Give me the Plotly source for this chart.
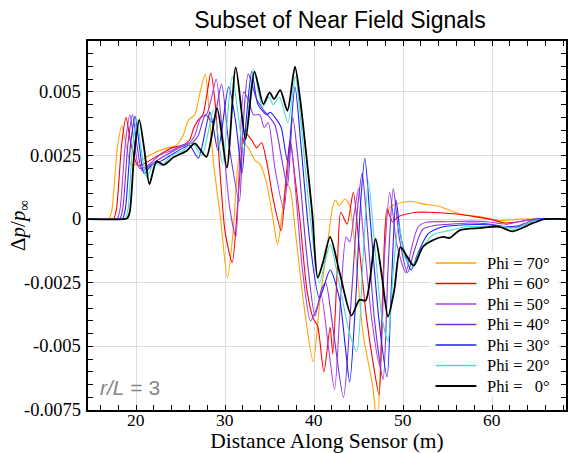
import plotly.graph_objects as go

# ---------------- data ----------------
labels = ["Phi = 70°", "Phi = 60°", "Phi = 50°", "Phi = 40°", "Phi = 30°", "Phi = 20°",
          "Phi = \u00a0\u00a00°"]
colors = ["#ffa500", "#ff0000", "#a63ff0", "#7b2fd8", "#1f1fff", "#40e0d0", "#000000"]
widths = [1.1, 1.1, 1.1, 1.1, 1.1, 1.1, 1.8]

x_phi70 = [14.6, 16.6, 17.0, 17.3, 17.9, 18.4, 18.9, 19.5, 20.5, 22.0, 23.5, 24.5, 25.3, 25.9, 26.6, 27.2,
           27.76, 28.3, 28.7, 29.5, 30.26, 30.9, 31.4, 31.9, 32.6, 33.4, 33.9, 34.6, 35.3, 35.9, 36.4, 36.9,
           37.3, 37.9, 38.9, 39.9, 40.65, 41.5, 42.1, 42.4, 42.8, 43.45, 44.0, 44.7, 45.5, 46.6, 47.1, 47.6,
           48.1, 48.5, 49.2, 50.9, 52.2, 54.1, 56.35, 58.6, 60.8, 63.0, 68.3]
y_phi70 = [0, 0, 0.00003, 0.0004, 0.0028, 0.00367, 0.0029, 0.0021, 0.0023, 0.0026, 0.0028, 0.0029, 0.0033,
           0.0039, 0.0041, 0.0050, 0.0057, 0.0038, 0.0022, 0.0000, -0.0023, -0.0005, 0.0020, 0.0030, 0.0028,
           0.0023, 0.00217, 0.0015, 0.0002, -0.0010, 0.0002, 0.0014, 0.0012, -0.0005, -0.0035, -0.0056,
           -0.0032, -0.0010, 0.0005, 0.00075, 0.00053, 0.00079, 0.00053, -0.0015, -0.0045, -0.0066, -0.0082,
           -0.0040, 0.0000, 0.00046, 0.0006, 0.0007, 0.0006, 0.0005, 0.0002, 0.0001, -0.00005, 0, 0]

x_phi60 = [14.6, 17.1, 17.5, 17.8, 18.4, 18.87, 19.4, 20.2, 21.0, 22.5, 24.0, 25.2, 26.0, 26.5, 27.0, 27.5,
           28.0, 28.4, 28.9, 29.4, 30.0, 30.8, 31.4, 32.0, 32.4, 33.0, 33.55, 34.1, 34.7, 35.4, 36.3, 36.8,
           37.3, 37.8, 38.4, 39.2, 39.9, 40.4, 41.1, 41.8, 42.1, 42.6, 43.0, 43.7, 44.4, 45.1, 45.9, 46.7,
           47.3, 47.7, 48.2, 48.8, 49.5, 50.4, 51.5, 53.0, 56.0, 58.0, 59.7, 61.5, 63.0, 64.8, 68.3]
y_phi60 = [0, 0, 0.00003, 0.0004, 0.0030, 0.0040, 0.0030, 0.0021, 0.0022, 0.0025, 0.0028, 0.0029, 0.0031,
           0.0036, 0.0039, 0.0041, 0.0050, 0.00574, 0.0045, 0.0020, -0.0005, -0.0017, 0.0005, 0.0030, 0.00334,
           0.0031, 0.0028, 0.0030, 0.0022, 0.0008, -0.00045, 0.0014, 0.0031, 0.0018, 0.0000, -0.0028, -0.0039,
           -0.0042, -0.0060, -0.00425, -0.0053, -0.0020, 0.00027, -0.0002, 0.00105, -0.0012, -0.0039,
           -0.0058, -0.0069, -0.0030, 0.0004, -0.0001, 0.0001, 0.0002, 0.00027, 0.00027, 0.0002, 0.0001,
           0.0, -0.00015, -0.0001, 0, 0]

x_phi50 = [14.6, 17.5, 17.9, 18.2, 18.8, 19.3, 19.8, 20.4, 21.3, 22.6, 24.0, 25.2, 26.0, 26.6, 27.3, 27.9,
           28.5, 29.0, 29.8, 30.5, 31.2, 31.6, 32.1, 32.6, 33.2, 33.9, 34.4, 34.85, 35.6, 36.6, 37.1, 37.4,
           37.9, 38.7, 39.6, 40.3, 40.8, 41.6, 42.3, 43.0, 43.6, 44.0, 44.5, 45.0, 45.5, 46.5, 47.4, 47.9,
           48.5, 49.3, 50.3, 50.9, 51.7, 52.6, 55.0, 57.5, 59.5, 61.5, 63.0, 64.8, 68.3]
y_phi50 = [0, 0, 0.00003, 0.0004, 0.0030, 0.0041, 0.0030, 0.0020, 0.0021, 0.0025, 0.0027, 0.0029, 0.0030,
           0.0033, 0.0040, 0.0041, 0.0048, 0.0055, 0.0030, 0.0005, -0.0007, 0.0020, 0.0050, 0.0047, 0.0041,
           0.0041, 0.0036, 0.0038, 0.0020, 0.00036, 0.0022, 0.0030, 0.0012, -0.0020, -0.0040, -0.0035,
           -0.0030, -0.0050, -0.0067, -0.0030, -0.0007, -0.0009, 0.0002, 0.0012, -0.0005, -0.0040, -0.0058,
           -0.0015, 0.00105, -0.0010, -0.0021, -0.0012, -0.0003, -0.00012, -0.0001, -0.00008, -0.0001,
           -0.0002, -0.0001, 0, 0]

x_phi40 = [14.6, 17.8, 18.2, 18.5, 19.1, 19.6, 20.1, 20.7, 21.5, 22.8, 24.3, 25.5, 26.3, 27.0, 27.8, 28.6,
           29.6, 30.4, 31.6, 32.0, 32.6, 33.55, 34.3, 35.0, 35.6, 36.3, 37.0, 37.6, 38.3, 39.2, 40.1, 40.8,
           41.3, 42.2, 43.3, 44.2, 44.9, 45.4, 45.9, 46.8, 47.75, 48.3, 48.9, 49.6, 50.5, 51.2, 52.2, 53.5,
           55.2, 57.5, 59.5, 61.5, 63.0, 65.0, 68.3]
y_phi40 = [0, 0, 0.00003, 0.0004, 0.0030, 0.0041, 0.0029, 0.0019, 0.0021, 0.0024, 0.0027, 0.0029, 0.0030,
           0.0033, 0.0041, 0.0038, 0.0053, 0.0030, 0.0007, 0.0035, 0.0057, 0.0047, 0.0043, 0.0040, 0.0037,
           0.0025, 0.0013, 0.0040, 0.0020, -0.0015, -0.0038, -0.0028, -0.0025, -0.0045, -0.0070, -0.0030,
           0.0005, 0.0018, 0.0000, -0.0040, -0.0063, -0.0020, 0.0012, -0.0008, -0.0021, -0.0013, -0.0004,
           -0.00025, -0.0002, -0.00015, -0.00018, -0.0003, -0.00025, 0, 0]

x_phi30 = [14.6, 18.1, 18.5, 18.8, 19.4, 19.9, 20.4, 20.9, 21.7, 22.9, 24.3, 25.3, 26.0, 27.0, 28.3, 29.2,
           30.4, 31.2, 31.9, 32.4, 33.0, 33.7, 34.7, 35.05, 35.6, 36.3, 37.0, 37.85, 38.5, 39.5, 40.6, 41.8,
           42.9, 43.5, 44.0, 44.7, 45.2, 45.7, 46.3, 47.3, 48.2, 48.7, 49.2, 49.8, 50.9, 51.6, 52.8, 54.5,
           57.1, 59.5, 61.6, 63.0, 65.2, 68.3]
y_phi30 = [0, 0, 0.00003, 0.0004, 0.0030, 0.00404, 0.0028, 0.0018, 0.0021, 0.0023, 0.0026, 0.0028, 0.0029,
           0.0024, 0.0042, 0.0027, 0.0052, 0.0038, 0.0018, 0.0040, 0.0058, 0.0045, 0.0041, 0.0042, 0.0040,
           0.0036, 0.0023, 0.0052, 0.0030, -0.0008, -0.0031, -0.0020, -0.0032, -0.0050, -0.0064, -0.0030,
           0.0005, 0.0024, 0.0000, -0.0040, -0.0062, -0.0025, 0.00075, -0.0008, -0.0020, -0.0014, -0.00058,
           -0.0003, -0.00022, -0.00022, -0.0003, -0.0003, 0, 0]

x_phi20 = [14.6, 18.4, 18.8, 19.1, 19.6, 20.1, 20.6, 21.2, 22.0, 22.8, 24.0, 25.3, 26.3, 27.4, 28.7, 29.7,
           30.8, 32.1, 33.2, 34.2, 34.9, 35.4, 36.1, 37.05, 37.9, 38.6, 39.5, 40.6, 41.8, 42.8, 44.0, 44.8,
           45.5, 46.1, 46.8, 47.6, 48.3, 48.9, 49.5, 50.2, 51.0, 51.8, 52.6, 53.4, 55.2, 57.0, 59.5, 61.5,
           62.5, 64.3, 65.8, 68.3]
y_phi20 = [0, 0, 0.00003, 0.0004, 0.0028, 0.0039, 0.0027, 0.00164, 0.0022, 0.0021, 0.0025, 0.0027, 0.0030,
           0.0025, 0.0043, 0.0022, 0.0056, 0.0027, 0.0059, 0.0044, 0.0048, 0.0045, 0.0048, 0.0038, 0.0056,
           0.0035, 0.0003, -0.0025, -0.0010, -0.0025, -0.0045, -0.0052, -0.0015, 0.0015, -0.0010, -0.0038,
           -0.0048, -0.0020, -0.0002, -0.0015, -0.0019, -0.0013, -0.0009, -0.0006, -0.00045, -0.0003,
           -0.0003, -0.0003, -0.0004, -0.0001, 0, 0]

x_phi0 = [14.6, 18.6, 19.0, 19.3, 19.8, 20.36, 20.9, 21.5, 22.3, 23.1, 24.2, 25.7, 26.6, 27.9, 29.1, 30.2,
          31.2, 32.3, 33.3, 34.3, 35.0, 35.5, 36.2, 37.0, 37.85, 38.4, 39.1, 39.8, 40.4, 41.0, 41.8, 42.9,
          44.2, 45.1, 45.8, 46.9, 47.6, 48.3, 49.0, 49.7, 50.5, 51.2, 52.2, 53.4, 54.5, 55.2, 56.4, 58.6,
          60.8, 62.3, 64.5, 65.9, 68.3]
y_phi0 = [0, 0, 0.00003, 0.0003, 0.0026, 0.0039, 0.0028, 0.00138, 0.00227, 0.00213, 0.00243, 0.00269,
          0.00298, 0.00245, 0.00435, 0.00203, 0.00596, 0.00315, 0.0058, 0.00452, 0.00498, 0.00472, 0.00507,
          0.00426, 0.00599, 0.0048, 0.0026, 0.0002, -0.0023, -0.0017, -0.0007, -0.00215, -0.00379, -0.00317,
          -0.0032, -0.00078, -0.0022, -0.00383, -0.0028, -0.0011, -0.0015, -0.00183, -0.0011, -0.00082,
          -0.0007, -0.00074, -0.00043, -0.00035, -0.0003, -0.00048, -0.00017, 0, 0]

xs = [x_phi70, x_phi60, x_phi50, x_phi40, x_phi30, x_phi20, x_phi0]
ys = [y_phi70, y_phi60, y_phi50, y_phi40, y_phi30, y_phi20, y_phi0]

x_tickvals = [20, 30, 40, 50, 60]
x_ticktext = ["20", "30", "40", "50", "60"]
y_tickvals = [0.005, 0.0025, 0, -0.0025, -0.005, -0.0075]
y_ticktext = ["0.005", "0.0025", "0", "-0.0025", "-0.005", "-0.0075"]

# ---------------- figure ----------------
serif = "Liberation Serif"
sans = "Liberation Sans"
W, H = 571, 453
L, R, T, B = 88, 3, 41, 43
PW, PH = W - L - R, H - T - B


def px2paper(px, py):
    return (px - L) / PW, (H - B - py) / PH


fig = go.Figure()
for xv, yv, lab, col, w in zip(xs, ys, labels, colors, widths):
    fig.add_trace(go.Scatter(x=xv, y=yv, mode="lines", name=lab, showlegend=False,
                             line=dict(color=col, width=w, shape="spline", smoothing=0.7)))

axis_common = dict(showline=True, linecolor="black", linewidth=1.5, mirror="allticks",
                   ticks="inside", ticklen=5, tickcolor="black", tickwidth=1, showticklabels=False,
                   showgrid=True, gridcolor="#dddddd", gridwidth=1, zeroline=False)

fig.update_layout(
    font=dict(family=serif, size=18, color="black"),
    width=W, height=H,
    margin=dict(l=L, r=R, t=T, b=B, pad=0),
    paper_bgcolor="white", plot_bgcolor="white",
    title=dict(text="Subset of Near Field Signals", xref="paper", x=(341 - L) / PW, xanchor="center",
               y=1 - 20 / H, yanchor="middle",
               font=dict(family=sans, size=23, color="black")),
    xaxis=dict(range=[14.6, 68.3], tickmode="array", tickvals=x_tickvals,
               minor=dict(dtick=2, tick0=0, ticks="inside", ticklen=5, tickcolor="black", showgrid=False),
               title=dict(text="Distance Along Sensor (m)", font=dict(family=serif, size=21.5, color="black"),
                          standoff=23),
               **axis_common),
    yaxis=dict(range=[-0.0075, 0.007], tickmode="array", tickvals=y_tickvals,
               minor=dict(dtick=0.0005, tick0=0, ticks="inside", ticklen=5, tickcolor="black", showgrid=False),
               title=dict(text="\u0394<i>p</i>/<i>p</i><sub>\u221e</sub>",
                          font=dict(family=serif, size=21, color="black"), standoff=55),
               **axis_common),
    showlegend=False,
)

# tick labels, placed at the axis values
ytx, _ = px2paper(83, 0)
for v, t in zip(y_tickvals, y_ticktext):
    fig.add_annotation(text=t, xref="paper", yref="y", x=ytx, y=v, xanchor="right", yanchor="middle",
                       showarrow=False, font=dict(family=serif, size=18.5, color="black"))
_, xty = px2paper(0, 420)
for v, t in zip(x_tickvals, x_ticktext):
    fig.add_annotation(text=t, xref="x", yref="paper", x=v, y=xty, xanchor="center", yanchor="middle",
                       showarrow=False, font=dict(family=serif, size=17.5, color="black"))

# legend box drawn as shapes + text
bx0, by0 = px2paper(432, 396)
bx1, by1 = px2paper(560, 252)
fig.add_shape(type="rect", xref="paper", yref="paper", x0=bx0, y0=by0, x1=bx1, y1=by1,
              fillcolor="white", line=dict(width=0), layer="above", opacity=1)
row_py = [263, 283.5, 304, 324.5, 345, 365.5, 386]
for py, lab, col, w in zip(row_py, labels, colors, widths):
    lx0, ly = px2paper(437, py)
    lx1, _ = px2paper(478, py)
    tx, _ = px2paper(487, py)
    fig.add_shape(type="line", xref="paper", yref="paper", x0=lx0, x1=lx1, y0=ly, y1=ly,
                  line=dict(color=col, width=w + 0.3), layer="above", opacity=1)
    fig.add_annotation(text=lab, xref="paper", yref="paper", x=tx, y=ly, xanchor="left",
                       yanchor="middle", showarrow=False,
                       font=dict(family=serif, size=16.5, color="black"))

ax, ay = px2paper(98, 387)
fig.add_annotation(text="<i>r/L</i> = 3", xref="paper", yref="paper", x=ax, y=ay,
                   xanchor="left", yanchor="middle", showarrow=False,
                   font=dict(family=sans, size=21, color="#888888"))

fig.write_html("out.html")
